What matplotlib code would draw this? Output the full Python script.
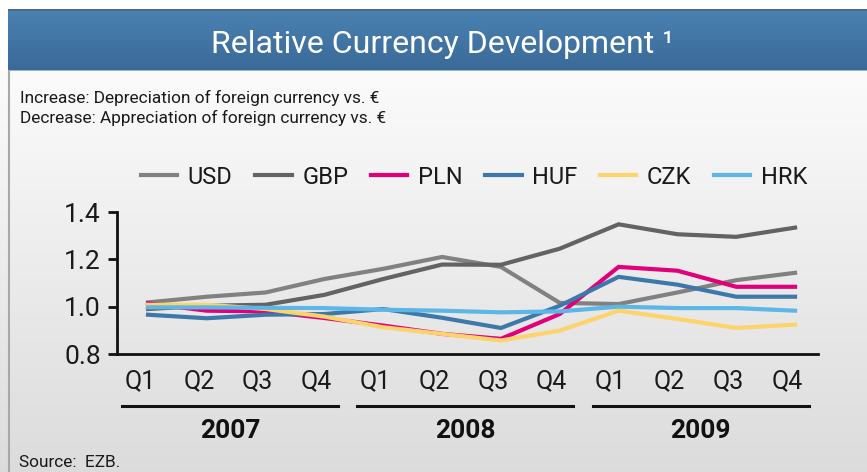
import numpy as np
import matplotlib
matplotlib.use("Agg")
import matplotlib.pyplot as plt
from matplotlib.transforms import ScaledTranslation, blended_transform_factory
from matplotlib.lines import Line2D

plt.rcParams['font.family'] = ['Roboto', 'Liberation Sans', 'DejaVu Sans']

# ---- data ----
quarters = ["Q1", "Q2", "Q3", "Q4"] * 3
years = ["2007", "2008", "2009"]
usd = [1.018, 1.042, 1.060, 1.117, 1.160, 1.210, 1.168, 1.016, 1.011, 1.060, 1.112, 1.143]
gbp = [0.990, 1.004, 1.008, 1.050, 1.117, 1.178, 1.177, 1.245, 1.348, 1.306, 1.295, 1.334]
pln = [1.014, 0.983, 0.980, 0.952, 0.920, 0.885, 0.864, 0.969, 1.168, 1.152, 1.084, 1.084]
huf = [0.966, 0.951, 0.966, 0.969, 0.990, 0.953, 0.910, 1.004, 1.126, 1.093, 1.042, 1.042]
czk = [1.008, 1.008, 0.990, 0.958, 0.913, 0.885, 0.857, 0.899, 0.983, 0.948, 0.910, 0.924]
hrk = [0.997, 0.997, 0.995, 0.994, 0.987, 0.983, 0.976, 0.980, 1.000, 0.994, 0.994, 0.983]
series_names = ["USD", "GBP", "PLN", "HUF", "CZK", "HRK"]
series_values = [usd, gbp, pln, huf, czk, hrk]
colors = ["#818181", "#636363", "#e2007a", "#3e78ab", "#fdd36c", "#5db6e6"]
yticks = [0.8, 1.0, 1.2, 1.4]

W, H = 867, 472
fig = plt.figure(figsize=(W / 100, H / 100), dpi=100)

# background gradient
bg = fig.add_axes([0, 0, 1, 1], zorder=-10)
g = np.linspace(0, 1, 256)[:, None]
top_c = np.array([0.985, 0.985, 0.985])
bot_c = np.array([0.862, 0.862, 0.862])
img = top_c[None, None, :] * (1 - g[..., None]) + bot_c[None, None, :] * g[..., None]
img = np.repeat(img, 2, axis=1)
bg.imshow(img, aspect='auto', extent=[0, 1, 0, 1 - 71 / H], origin='upper')
bg.set_xlim(0, 1); bg.set_ylim(0, 1)
bg.axis('off')
bg.add_patch(plt.Rectangle((0, 1 - 9 / H), 1, 9 / H, color='white'))
bg.plot([9 / W, 9 / W], [0, 1 - 71 / H], color='#a8a8a8', lw=1.5)

# banner
ban = fig.add_axes([8 / W, 1 - 71 / H, 1 - 8 / W, 62 / H], zorder=-5)
bt = np.array([0x4a, 0x82, 0xb3]) / 255
bb = np.array([0x3a, 0x69, 0x97]) / 255
bimg = bt[None, None, :] * (1 - g[..., None]) + bb[None, None, :] * g[..., None]
bimg = np.repeat(bimg, 2, axis=1)
ban.imshow(bimg, aspect='auto', extent=[0, 1, 0, 1], origin='upper')
ban.set_xlim(0, 1); ban.set_ylim(0, 1)
ban.axhline(1, color='#4d6a85', lw=2)
ban.axhline(0, color='#8fb3d3', lw=1.5)
ban.axis('off')

fig.text(442 / W, 1 - 53 / H, "Relative Currency Development \u00b9", color='white',
         fontsize=23, ha='center', va='baseline')

fig.text(20 / W, 1 - 103 / H, "Increase: Depreciation of foreign currency vs. \u20ac",
         fontsize=12.4, color='#1a1a1a', va='baseline')
fig.text(20 / W, 1 - 123 / H, "Decrease: Appreciation of foreign currency vs. \u20ac",
         fontsize=12.4, color='#1a1a1a', va='baseline')
fig.text(19 / W, 1 - 467 / H, "Source:  EZB.", fontsize=12.4, color='#1a1a1a', va='baseline')

# main axes
ax = fig.add_axes([117 / W, 1 - 354 / H, (818 - 117) / W, (354 - 212) / H])
ax.patch.set_alpha(0)
x = np.arange(len(quarters))
handles = []
for name, vals, c in zip(series_names, series_values, colors):
    ln, = ax.plot(x, vals, color=c, lw=3, solid_joinstyle='miter', label=name, clip_on=False)
    handles.append(ln)

ax.set_xlim(-0.527, 11.39)
ax.set_ylim(0.8, 1.4)
ax.set_yticks(yticks)
ax.set_yticklabels([f"{v:.1f}" for v in yticks])
ax.set_xticks(x)
ax.set_xticklabels(quarters)
for s in ["top", "right"]:
    ax.spines[s].set_visible(False)
for s in ["left", "bottom"]:
    ax.spines[s].set_linewidth(2)
    ax.spines[s].set_color('#111111')
ax.tick_params(axis='y', length=6.5, width=2, color='#111111', labelsize=19, pad=5,
               labelcolor='#1a1a1a')
ax.tick_params(axis='x', length=0, labelsize=18, pad=11, labelcolor='#1a1a1a')
off = ScaledTranslation(-8 / 100, 0, fig.dpi_scale_trans)
for lab in ax.get_xticklabels():
    lab.set_transform(lab.get_transform() + off)

# year groups
tr = blended_transform_factory(ax.transData, fig.transFigure)
for gi, yr in enumerate(years):
    s = 4 * gi
    ax.add_line(Line2D([s - 0.44, s + 3.23], [1 - 405.7 / H] * 2, transform=tr,
                       color='#111111', lw=2.2, clip_on=False))
    ax.text(s + 1.395, 1 - 438 / H, yr, transform=tr, ha='center', va='baseline',
            fontsize=19, fontweight='bold', color='#111111')

leg = fig.legend(handles=handles, loc='center', bbox_to_anchor=(474 / W, 1 - 177 / H),
                 ncol=6, frameon=False, fontsize=17, handlelength=1.55, handletextpad=0.45,
                 columnspacing=0.95)
for t in leg.get_texts():
    t.set_color('#1a1a1a')

fig.savefig("out.png", dpi=100)
